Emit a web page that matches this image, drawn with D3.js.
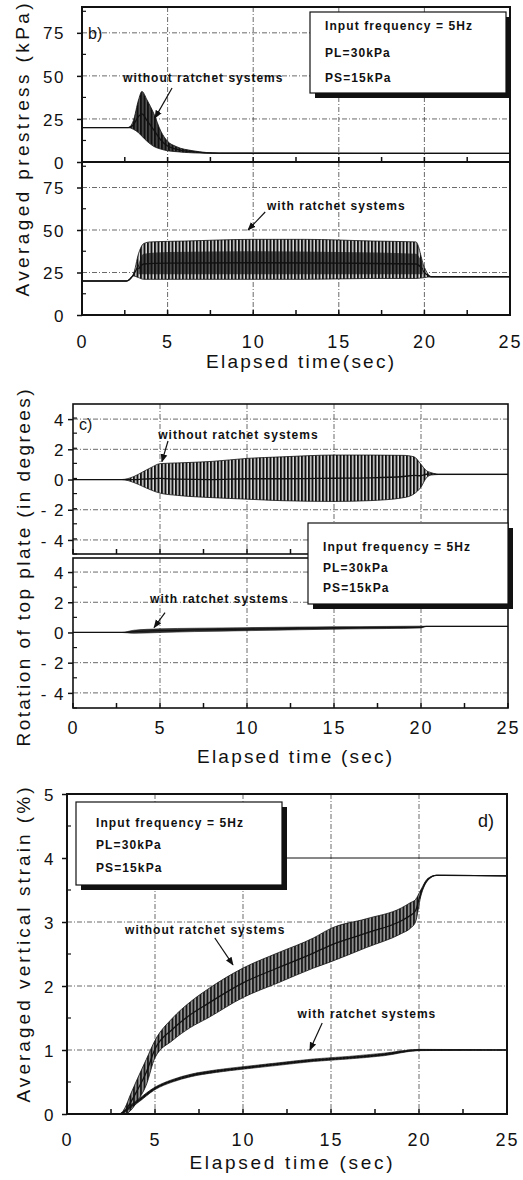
<!DOCTYPE html>
<html>
<head>
<meta charset="utf-8">
<script src="https://cdn.jsdelivr.net/npm/d3@7"></script>
<style>
  html, body { margin: 0; padding: 0; background: #fff; }
  svg { display: block; font-family: "Liberation Sans", Arial, sans-serif; }
</style>
</head>
<body>
<svg id="chart" width="523" height="1180"></svg>
<script>
'use strict';

// axes
var TIME_TICKS = [0, 5, 10, 15, 20, 25];
var TIME_GRID = [5, 10, 15, 20];
var TIME_MINOR = [2.5, 7.5, 12.5, 17.5, 22.5];
var PRESTRESS_TICKS = [0, 25, 50, 75];
var ROTATION_TICKS = [-4, -2, 0, 2, 4];
var STRAIN_TICKS = [0, 1, 2, 3, 4, 5];
var LEGEND_LINES = ['Input frequency = 5Hz', 'PL=30kPa', 'PS=15kPa'];

// b) averaged prestress, envelope of the 5 Hz response (kPa)
var B_FREE_T  = [0, 2.7, 3.0, 3.3, 3.5, 3.8, 4.2, 4.6, 5.0, 5.5, 6.5, 8, 25];
var B_FREE_HI = [20, 20, 24, 36, 41, 36, 28, 18, 12, 9, 6.5, 5.2, 5];
var B_FREE_LO = [20, 20, 19, 17, 15, 12, 9, 7.5, 6.5, 6, 5.3, 5, 5];

var B_LOCK_T  = [0, 2.6, 3.0, 3.3, 3.6, 4, 6, 10, 13, 17, 19.5, 20.0, 20.4, 25];
var B_LOCK_HI = [20, 20, 24, 36, 42, 43, 43.5, 44.5, 44.5, 43.5, 43, 28, 22.5, 22.5];
var B_LOCK_LO = [20, 20, 23, 22, 21, 21, 21, 21, 21, 21.5, 21.5, 22, 22.5, 22.5];
var B_CORE_T  = [3.3, 3.6, 5, 10, 15, 19.5, 19.9];
var B_CORE_HI = [30, 36, 37, 37.5, 37, 36, 30];
var B_CORE_LO = [24, 24, 24, 24, 24, 24, 24];

// c) rotation of top plate (degrees)
var C_FREE_T  = [0, 2.8, 3.5, 4, 4.5, 5, 6, 8, 10, 12, 15, 17, 19, 19.6, 20, 20.3, 20.6, 21, 25];
var C_FREE_HI = [0, 0, 0.2, 0.5, 0.8, 1.05, 1.1, 1.2, 1.4, 1.5, 1.62, 1.62, 1.6, 1.5, 1.0, 0.6, 0.45, 0.35, 0.35];
var C_FREE_LO = [0, 0, -0.2, -0.45, -0.7, -0.9, -1.05, -1.2, -1.3, -1.4, -1.45, -1.4, -1.2, -0.95, -0.5, 0.1, 0.3, 0.33, 0.33];

var C_LOCK_T  = [0, 2.8, 3.5, 5, 7, 10, 13, 15, 18, 20, 20.3, 25];
var C_LOCK_HI = [0, 0, 0.15, 0.24, 0.28, 0.32, 0.36, 0.38, 0.4, 0.42, 0.4, 0.4];
var C_LOCK_LO = [0, 0, -0.05, 0, 0.06, 0.12, 0.18, 0.22, 0.26, 0.3, 0.4, 0.4];

// d) averaged vertical strain (%)
var D_FREE_T  = [2.4, 3.0, 3.3, 3.6, 4, 4.5, 5, 6, 7, 8, 10, 12, 14, 15, 17, 19, 19.5, 19.8, 20.1, 20.5, 21, 25];
var D_FREE_HI = [0, 0, 0.1, 0.3, 0.55, 0.85, 1.15, 1.5, 1.75, 1.95, 2.28, 2.52, 2.75, 2.9, 3.05, 3.22, 3.3, 3.35, 3.5, 3.68, 3.73, 3.72];
var D_FREE_LO = [0, 0, 0, 0.05, 0.2, 0.45, 0.88, 1.15, 1.35, 1.5, 1.82, 2.05, 2.28, 2.38, 2.6, 2.82, 2.9, 3.0, 3.4, 3.65, 3.73, 3.72];

var D_LOCK_T  = [2.4, 3.0, 3.5, 4, 5, 6, 7, 8.5, 10, 12, 14, 16, 18, 20, 25];
var D_LOCK_HI = [0, 0, 0.12, 0.22, 0.42, 0.54, 0.62, 0.69, 0.74, 0.8, 0.86, 0.9, 0.95, 1.01, 1.0];
var D_LOCK_LO = [0, 0, 0.07, 0.17, 0.38, 0.5, 0.58, 0.65, 0.7, 0.76, 0.82, 0.86, 0.91, 0.99, 1.0];

var svg = d3.select('#chart');
var INK = '#111';

function band(ts, his, los) {
  return ts.map(function (t, i) { return { t: t, hi: his[i], lo: los[i] }; });
}

// dense vertical strokes stand in for the 5 Hz cycles
var defs = svg.append('defs');
function hatch(id, bg, width) {
  var p = defs.append('pattern').attr('id', id)
    .attr('patternUnits', 'userSpaceOnUse').attr('width', 3.5).attr('height', 10);
  if (bg) p.append('rect').attr('width', 3.5).attr('height', 10).attr('fill', bg);
  p.append('line').attr('x1', 1).attr('x2', 1).attr('y1', 0).attr('y2', 10)
    .attr('stroke', INK).attr('stroke-width', width);
}
hatch('osc', '#ddd', 2.0);
hatch('oscDark', '#555', 2.2);
hatch('oscGray', '#999', 1.8);

defs.append('marker').attr('id', 'arrow').attr('viewBox', '0 0 10 10')
  .attr('refX', 9).attr('refY', 5).attr('markerWidth', 7).attr('markerHeight', 7)
  .attr('orient', 'auto-start-reverse')
  .append('path').attr('d', 'M0,1 L10,5 L0,9 z').attr('fill', INK);

function plot(o) {
  var x = d3.scaleLinear().domain([0, 25]).range(o.xr);
  var y = d3.scaleLinear().domain(o.yd).range(o.yr);
  var g = svg.append('g');
  var top = o.yr[1], bot = o.yr[0];

  g.selectAll('line.hg').data(o.grid).join('line').attr('class', 'hg')
    .attr('x1', o.xr[0]).attr('x2', o.xr[1])
    .attr('y1', function (d) { return y(d); }).attr('y2', function (d) { return y(d); })
    .attr('stroke', '#444').attr('stroke-width', 0.8).attr('stroke-dasharray', '5,2,1,2');
  g.selectAll('line.vg').data(TIME_GRID).join('line').attr('class', 'vg')
    .attr('x1', function (d) { return x(d); }).attr('x2', function (d) { return x(d); })
    .attr('y1', top).attr('y2', bot)
    .attr('stroke', '#444').attr('stroke-width', 0.8).attr('stroke-dasharray', '5,2,1,2');

  return { x: x, y: y, g: g, o: o };
}

function drawBand(p, data, fill, edge) {
  var area = d3.area().curve(d3.curveMonotoneX)
    .x(function (d) { return p.x(d.t); })
    .y0(function (d) { return p.y(d.lo); })
    .y1(function (d) { return p.y(d.hi); });
  p.g.append('path').datum(data).attr('d', area).attr('fill', fill).attr('stroke', 'none');
  if (edge) {
    ['hi', 'lo'].forEach(function (k) {
      p.g.append('path').datum(data)
        .attr('d', d3.line().curve(d3.curveMonotoneX)
          .x(function (d) { return p.x(d.t); })
          .y(function (d) { return p.y(d[k]); }))
        .attr('fill', 'none').attr('stroke', INK).attr('stroke-width', edge);
    });
  }
  p.g.append('path').datum(data)
    .attr('d', d3.line().curve(d3.curveMonotoneX)
      .x(function (d) { return p.x(d.t); })
      .y(function (d) { return p.y((d.hi + d.lo) / 2); }))
    .attr('fill', 'none').attr('stroke', INK).attr('stroke-width', 1.3);
}

function frame(p, ticks, fmt, labelEnd, minorStep, edgeW) {
  var o = p.o, top = o.yr[1], bot = o.yr[0];
  p.g.append('rect').attr('x', o.xr[0]).attr('y', top)
    .attr('width', o.xr[1] - o.xr[0]).attr('height', bot - top)
    .attr('fill', 'none').attr('stroke', INK).attr('stroke-width', edgeW || 2);

  var ax = p.g.append('g').attr('transform', 'translate(' + o.xr[0] + ',0)')
    .call(d3.axisLeft(p.y).tickValues(ticks).tickFormat(fmt).tickSize(5)
      .tickPadding(o.xr[0] - labelEnd - 5));
  ax.select('.domain').remove();
  ax.selectAll('line').attr('stroke', INK).attr('stroke-width', 1.5);
  ax.selectAll('text').attr('fill', INK).style('font-size', '17px')
    .style('letter-spacing', '1.5px').attr('dy', '0.36em');

  // minor inner ticks on the left edge
  var minors = d3.range(p.y.domain()[0], p.y.domain()[1] + 1e-9, minorStep)
    .filter(function (v) { return ticks.indexOf(v) < 0; });
  p.g.selectAll('line.ym').data(minors).join('line').attr('class', 'ym')
    .attr('x1', o.xr[0]).attr('x2', o.xr[0] + 4)
    .attr('y1', function (d) { return p.y(d); }).attr('y2', function (d) { return p.y(d); })
    .attr('stroke', INK).attr('stroke-width', 1.2);

  // inner time ticks along the bottom edge
  p.g.selectAll('line.xt').data(TIME_TICKS.concat(TIME_MINOR)).join('line').attr('class', 'xt')
    .attr('x1', function (d) { return p.x(d); }).attr('x2', function (d) { return p.x(d); })
    .attr('y1', bot).attr('y2', bot - 5)
    .attr('stroke', INK).attr('stroke-width', 1.5);
}

function timeAxis(p, baseline, title, titleY, titleLen) {
  var o = p.o;
  var ax = p.g.append('g').attr('transform', 'translate(0,' + o.yr[0] + ')')
    .call(d3.axisBottom(p.x).tickValues(TIME_TICKS).tickSize(0));
  ax.select('.domain').remove();
  ax.selectAll('text').attr('y', baseline - o.yr[0]).attr('dy', 0)
    .attr('fill', INK).style('font-size', '18px').style('letter-spacing', '2px');
  p.g.append('text').attr('x', (o.xr[0] + o.xr[1]) / 2 + 4).attr('y', titleY)
    .attr('text-anchor', 'middle').attr('fill', INK).style('font-size', '19px')
    .attr('textLength', titleLen).attr('lengthAdjust', 'spacing').text(title);
}

function yTitle(x, y, text, len) {
  svg.append('text').attr('transform', 'translate(' + x + ',' + y + ') rotate(-90)')
    .attr('text-anchor', 'middle').attr('fill', INK).style('font-size', '19px')
    .attr('textLength', len).attr('lengthAdjust', 'spacing').text(text);
}

function legend(x, y, w, h, tx, baselines) {
  var g = svg.append('g');
  g.append('rect').attr('x', x + 5).attr('y', y + 5).attr('width', w).attr('height', h).attr('fill', INK);
  g.append('rect').attr('x', x).attr('y', y).attr('width', w).attr('height', h)
    .attr('fill', '#fff').attr('stroke', INK).attr('stroke-width', 1.2);
  LEGEND_LINES.forEach(function (line, i) {
    g.append('text').attr('x', tx).attr('y', baselines[i]).attr('fill', INK)
      .style('font-size', '12px').style('font-weight', 'bold').style('letter-spacing', '1.1px')
      .text(line);
  });
}

function note(p, text, tx, ty, from, to) {
  p.g.append('text').attr('x', p.x(tx)).attr('y', p.y(ty)).attr('fill', INK)
    .style('font-size', '12px').style('font-weight', 'bold').style('letter-spacing', '1px')
    .text(text);
  p.g.append('line').attr('x1', p.x(from[0])).attr('y1', p.y(from[1]))
    .attr('x2', p.x(to[0])).attr('y2', p.y(to[1]))
    .attr('stroke', INK).attr('stroke-width', 1.2).attr('marker-end', 'url(#arrow)');
}

function tag(x, y, text, size) {
  svg.append('text').attr('x', x).attr('y', y).attr('fill', INK)
    .style('font-size', size + 'px').text(text);
}

var rotFmt = function (d) { return d < 0 ? '- ' + (-d) : String(d); };

// ---- panel b ----
var bTop = plot({ xr: [82, 510], yr: [162, 7], yd: [0, 90], grid: [25, 50, 75] });
drawBand(bTop, band(B_FREE_T, B_FREE_HI, B_FREE_LO), 'url(#oscDark)', 0.8);
frame(bTop, PRESTRESS_TICKS, d3.format('d'), 65, 12.5);

var bBot = plot({ xr: [82, 510], yr: [315, 162], yd: [0, 90], grid: [25, 50, 75] });
drawBand(bBot, band(B_LOCK_T, B_LOCK_HI, B_LOCK_LO), 'url(#osc)', 0.8);
drawBand(bBot, band(B_CORE_T, B_CORE_HI, B_CORE_LO), 'url(#oscDark)', 0);
frame(bBot, PRESTRESS_TICKS, d3.format('d'), 65, 12.5);
timeAxis(bBot, 348, 'Elapsed time(sec)', 368, 188);
yTitle(29, 150, 'Averaged prestress (kPa)', 293);
legend(310, 12, 196, 81, 325, [30, 57, 82]);
tag(88, 39, 'b)', 16);
note(bTop, 'without ratchet systems', 2.4, 46.5, [5.26, 43], [4.26, 25.5]);
note(bBot, 'with ratchet systems', 10.8, 61.8, [10.7, 60.6], [9.7, 50]);

// ---- panel c ----
var cTop = plot({ xr: [73, 508], yr: [554, 404], yd: [-4.93, 5], grid: [-4, -2, 2, 4] });
drawBand(cTop, band(C_FREE_T, C_FREE_HI, C_FREE_LO), 'url(#osc)', 0.8);
frame(cTop, ROTATION_TICKS, rotFmt, 65, 1, 1.6);

var cBot = plot({ xr: [73, 508], yr: [708, 558], yd: [-5, 4.93], grid: [-4, -2, 2, 4] });
drawBand(cBot, band(C_LOCK_T, C_LOCK_HI, C_LOCK_LO), '#333', 0.6);
frame(cBot, ROTATION_TICKS, rotFmt, 65, 1, 1.6);
timeAxis(cBot, 734, 'Elapsed time (sec)', 763, 195);
yTitle(30, 568, 'Rotation of top plate (in degrees)', 357);
legend(308, 523, 200, 81, 323, [551, 572, 592]);
tag(79, 430, 'c)', 16);
note(cTop, 'without ratchet systems', 4.9, 2.7, [5.46, 2.55], [5.11, 1.18]);
note(cBot, 'with ratchet systems', 4.43, 1.97, [5.29, 1.32], [4.66, 0.33]);

// ---- panel d ----
var dP = plot({ xr: [67, 507], yr: [1114, 794], yd: [0, 5], grid: [1, 2, 3] });
dP.g.append('line').attr('x1', 287).attr('x2', 507).attr('y1', dP.y(4)).attr('y2', dP.y(4))
  .attr('stroke', INK).attr('stroke-width', 1);
drawBand(dP, band(D_FREE_T, D_FREE_HI, D_FREE_LO), 'url(#oscGray)', 0.8);
drawBand(dP, band(D_LOCK_T, D_LOCK_HI, D_LOCK_LO), 'url(#oscDark)', 0.6);
frame(dP, STRAIN_TICKS, d3.format('d'), 55, 0.5);
timeAxis(dP, 1146, 'Elapsed time (sec)', 1169, 203);
yTitle(30, 945, 'Averaged vertical strain (%)', 315);
legend(76, 802, 206, 83, 96, [827, 849, 872]);
tag(478, 827, 'd)', 18);
note(dP, 'without ratchet systems', 3.3, 2.81, [8.4, 2.75], [9.43, 2.33]);
note(dP, 'with ratchet systems', 13.1, 1.5, [14.5, 1.42], [13.8, 1.0]);
</script>
</body>
</html>
